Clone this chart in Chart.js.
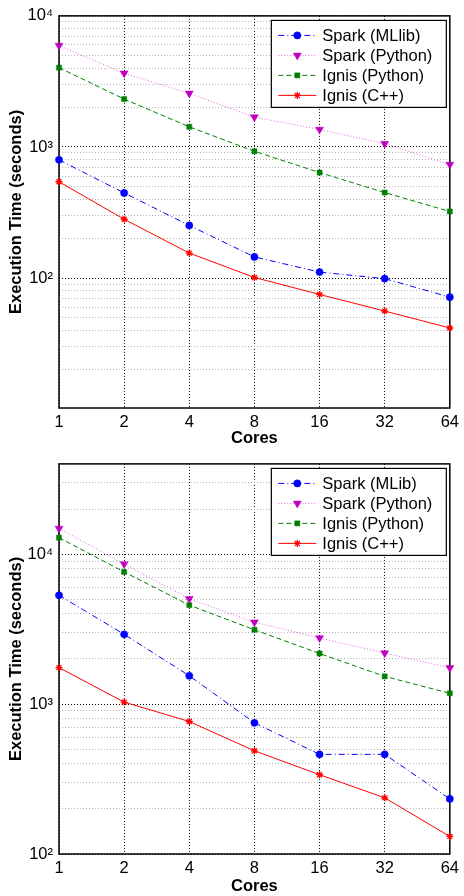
<!DOCTYPE html>
<html>
<head>
<meta charset="utf-8">
<script src="https://cdn.jsdelivr.net/npm/chart.js@4.4.1/dist/chart.umd.min.js"></script>
<style>
  body { margin: 0; background: #fff; }
  .panel { width: 464px; height: 448px; }
</style>
</head>
<body>
<div class="panel"><canvas id="chartTop" width="464" height="448"></canvas></div>
<div class="panel"><canvas id="chartBottom" width="464" height="448"></canvas></div>
<script>
// Données
const coreLabels = ['1', '2', '4', '8', '16', '32', '64'];

// Graphique du haut
const topSparkMllib = [798, 446, 252, 145, 111, 99, 71.5];
const topSparkPython = [5950, 3650, 2565, 1690, 1360, 1060, 735];
const topIgnisPython = [4030, 2320, 1425, 927, 638, 449, 322];
const topIgnisCpp = [543, 281, 155, 101, 75, 56, 41.6];
const topLegend = ['Spark (MLlib)', 'Spark (Python)', 'Ignis (Python)', 'Ignis (C++)'];

// Graphique du bas
const botSparkMllib = [5320, 2920, 1545, 750, 462, 462, 233];
const botSparkPython = [14840, 8600, 5035, 3515, 2760, 2190, 1745];
const botIgnisPython = [12880, 7610, 4570, 3130, 2175, 1530, 1180];
const botIgnisCpp = [1750, 1031, 765, 488, 338, 237, 131];
const botLegend = ['Spark (MLib)', 'Spark (Python)', 'Ignis (Python)', 'Ignis (C++)'];

const FONT = "'Liberation Sans', Arial, Helvetica, sans-serif";
const superDigits = { 1: '\u00b9', 2: '\u00b2', 3: '\u00b3', 4: '\u2074', 5: '\u2075' };

function isDecade(v) {
    const l = Math.log10(v);
    return Math.abs(l - Math.round(l)) < 1e-9;
}

// Cadre noir autour de la zone de tracé
const framePlugin = {
    id: 'frame',
    beforeDatasetsDraw(chart) {
        const a = chart.chartArea;
        const ctx = chart.ctx;
        ctx.save();
        ctx.strokeStyle = '#000';
        ctx.lineWidth = 1.5;
        ctx.setLineDash([]);
        ctx.strokeRect(a.left, a.top, a.right - a.left, a.bottom - a.top);
        ctx.restore();
    }
};

// Légende dessinée à la main dans le coin haut droit
const boxLegendPlugin = {
    id: 'boxLegend',
    afterDraw(chart) {
        const a = chart.chartArea;
        const ctx = chart.ctx;
        const w = 175, h = 87;
        const x0 = a.right - w - 3.5;
        const y0 = a.top + 4.5;
        ctx.save();
        ctx.fillStyle = '#fff';
        ctx.fillRect(x0, y0, w, h);
        ctx.strokeStyle = '#000';
        ctx.lineWidth = 1.2;
        ctx.strokeRect(x0, y0, w, h);
        chart.data.datasets.forEach((ds, i) => {
            const y = y0 + 15 + i * 20;
            ctx.strokeStyle = ds.borderColor;
            ctx.lineWidth = ds.borderWidth;
            ctx.setLineDash(ds.borderDash || []);
            ctx.beginPath();
            ctx.moveTo(x0 + 7, y);
            ctx.lineTo(x0 + 45, y);
            ctx.stroke();
            ctx.setLineDash([]);
            ctx.fillStyle = ds.pointBackgroundColor;
            ctx.strokeStyle = ds.pointBorderColor;
            ctx.lineWidth = ds.pointBorderWidth;
            Chart.helpers.drawPoint(ctx, {
                pointStyle: ds.pointStyle,
                rotation: ds.pointRotation || 0,
                radius: ds.pointRadius,
                borderWidth: ds.pointBorderWidth
            }, x0 + 26, y);
            ctx.fillStyle = '#000';
            ctx.font = '16.5px ' + FONT;
            ctx.textBaseline = 'middle';
            ctx.textAlign = 'left';
            ctx.fillText(ds.label, x0 + 51, y + 1);
        });
        ctx.restore();
    }
};

function makeDatasets(names, mllib, python, ignisPy, ignisCpp) {
    return [
        {
            label: names[0], data: mllib,
            borderColor: '#0000ff', borderWidth: 1, borderDash: [6, 3, 1, 3],
            pointStyle: 'circle', pointRadius: 3.6, pointBorderWidth: 0.5,
            pointBackgroundColor: '#0000ff', pointBorderColor: '#0000ff'
        },
        {
            label: names[1], data: python,
            borderColor: '#e060e0', borderWidth: 1, borderDash: [1, 2],
            pointStyle: 'triangle', pointRotation: 180, pointRadius: 4.6, pointBorderWidth: 0.5,
            pointBackgroundColor: '#bf00bf', pointBorderColor: '#bf00bf'
        },
        {
            label: names[2], data: ignisPy,
            borderColor: '#008000', borderWidth: 1, borderDash: [5, 3],
            pointStyle: 'rect', pointRadius: 3.6, pointBorderWidth: 0.5,
            pointBackgroundColor: '#008000', pointBorderColor: '#008000'
        },
        {
            label: names[3], data: ignisCpp,
            borderColor: '#ff0000', borderWidth: 1, borderDash: [],
            pointStyle: 'star', pointRadius: 3.5, pointBorderWidth: 1.3,
            pointBackgroundColor: '#ff0000', pointBorderColor: '#ff0000'
        }
    ].map(ds => Object.assign(ds, { tension: 0, fill: false, clip: false }));
}

function makeChart(canvasId, datasets, yMin, yMax, xAxisHeight) {
    const ctx = document.getElementById(canvasId).getContext('2d');
    return new Chart(ctx, {
        type: 'line',
        data: { labels: coreLabels, datasets: datasets },
        plugins: [framePlugin, boxLegendPlugin],
        options: {
            responsive: false,
            animation: false,
            devicePixelRatio: 1,
            layout: { padding: { left: 0, right: 10, top: 13, bottom: 0 } },
            plugins: {
                legend: { display: false },
                tooltip: { enabled: false }
            },
            scales: {
                x: {
                    type: 'category',
                    offset: false,
                    grid: { color: '#000', lineWidth: 1, drawTicks: false, offset: false },
                    border: { display: false, dash: [1, 2] },
                    ticks: { color: '#000', font: { size: 16.5, family: FONT }, padding: 5, maxRotation: 0 },
                    title: {
                        display: true, text: 'Cores', color: '#000',
                        font: { size: 16.5, weight: 'bold', family: FONT },
                        padding: { top: 0, bottom: 0 }
                    },
                    afterFit(scale) { scale.height = xAxisHeight; }
                },
                y: {
                    type: 'logarithmic',
                    min: yMin,
                    max: yMax,
                    grid: {
                        drawTicks: false,
                        lineWidth: 1,
                        color: c => isDecade(c.tick.value) ? '#000' : '#b4b4b4'
                    },
                    border: { display: false, dash: [1, 2] },
                    afterBuildTicks(scale) {
                        const ticks = [];
                        for (let e = Math.floor(Math.log10(yMin)); e <= Math.ceil(Math.log10(yMax)); e++) {
                            for (let m = 1; m <= 9; m++) {
                                const v = m * Math.pow(10, e);
                                if (v >= yMin - 1e-9 && v <= yMax + 1e-9) ticks.push({ value: v });
                            }
                        }
                        scale.ticks = ticks;
                    },
                    ticks: {
                        autoSkip: false,
                        color: '#000',
                        padding: 6,
                        font: { size: 16.5, family: FONT },
                        callback: v => isDecade(v) ? '10' + superDigits[Math.round(Math.log10(v))] : ''
                    },
                    title: {
                        display: true, text: 'Execution Time (seconds)', color: '#000',
                        font: { size: 16.5, weight: 'bold', family: FONT },
                        padding: { top: 7, bottom: 0 }
                    },
                    afterFit(scale) { scale.width = 59; }
                }
            }
        }
    });
}

makeChart('chartTop',
    makeDatasets(topLegend, topSparkMllib, topSparkPython, topIgnisPython, topIgnisCpp),
    10.2, 10000, 40);
makeChart('chartBottom',
    makeDatasets(botLegend, botSparkMllib, botSparkPython, botIgnisPython, botIgnisCpp),
    100, 40000, 42);
</script>
</body>
</html>
